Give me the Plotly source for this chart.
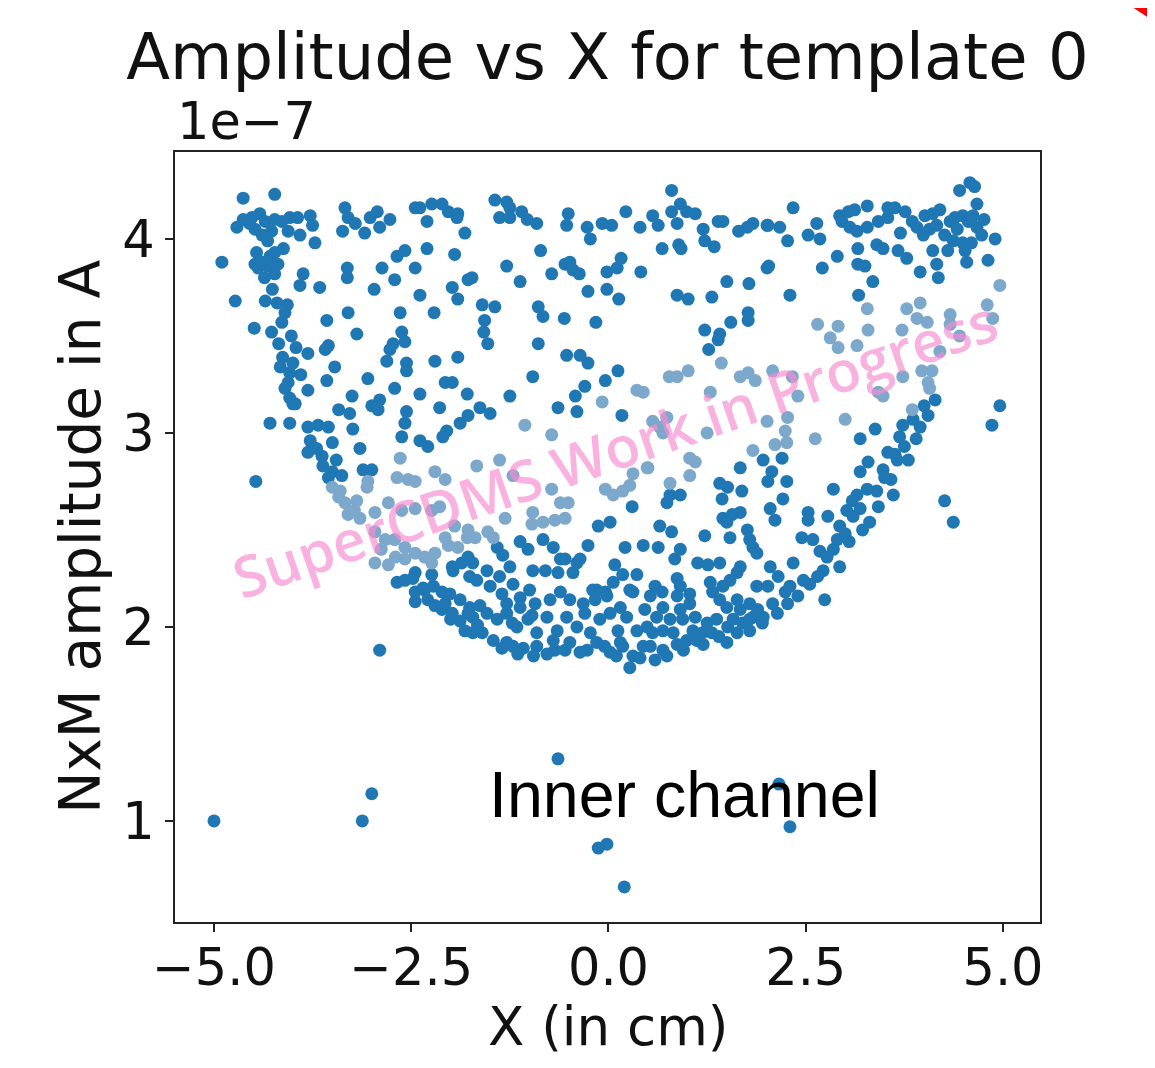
import plotly.graph_objects as go

# ---- data (x in cm, amplitude in units of 1e-7 A) ----
left_upper = [(-4.63,4.21),(-4.23,4.23),(-4.71,4.06),(-4.63,4.10),(-4.52,4.11),(-4.42,4.13),(-4.35,4.09),(-4.48,4.05),(-4.39,4.02),(-4.32,3.99),(-4.23,4.10),(-4.14,4.09),(-4.04,4.11),(-4.06,4.04),(-3.94,4.11),(-3.91,4.02),(-3.78,4.12),(-3.75,4.07),(-3.72,3.98),(-3.34,4.16),(-3.30,4.11),(-3.37,4.04),(-3.21,4.08),(-3.09,4.03),(-3.02,4.11),(-2.93,4.14),(-2.90,4.06),(-2.77,4.10),(-2.45,4.16),(-2.39,4.16),(-2.24,4.18),(-2.11,4.18),(-2.03,4.14),(-1.91,4.13),(-1.92,4.11),(-2.30,4.09),(-1.82,4.03),(-4.90,3.88),(-4.46,3.93),(-4.48,3.87),(-4.39,3.88),(-4.29,3.91),(-4.23,3.93),(-4.19,3.87),(-4.32,3.86),(-4.23,3.82),(-4.44,3.85),(-3.87,3.82),(-3.91,3.76),(-3.66,3.75),(-3.31,3.85),(-3.31,3.80),(-2.87,3.85),(-2.71,3.79),(-2.97,3.74),(-2.68,3.91),(-2.58,3.94),(-2.30,3.95),(-2.45,3.85),(-1.95,3.92),(-1.78,3.79),(-1.98,3.75),(-1.91,3.69),(-2.39,3.71),(-4.73,3.68),(-4.35,3.68),(-4.20,3.67),(-4.07,3.66),(-3.30,3.62),(-3.57,3.58),(-2.64,3.62),(-2.21,3.62),(-4.49,3.54),(-4.27,3.52),(-4.14,3.57),(-3.19,3.51),(-2.62,3.52),(-2.58,3.47),(-2.73,3.46),(-2.77,3.43),(-4.18,3.46),(-3.81,3.41),(-3.55,3.45),(-3.59,3.43),(-4.13,3.39),(-4.16,3.34),(-4.00,3.36),(-4.04,3.31),(-3.47,3.34),(-2.81,3.37),(-2.56,3.36),(-2.56,3.32),(-2.20,3.37),(-1.91,3.39),(-3.57,3.27),(-3.05,3.28),(-4.06,3.26),(-4.10,3.23),(-3.81,3.22),(-2.71,3.23),(-2.39,3.20),(-2.07,3.26),(-1.98,3.26),(-1.79,3.20),(-3.25,3.19),(-4.04,3.18),(-3.97,3.15),(-3.00,3.14),(-2.90,3.17),
    (-4.55,4.08),(-4.27,4.04),(-4.12,3.95),(-4.36,3.80),(-4.26,3.74),(-4.10,3.62),(-4.02,3.50),(-3.96,3.44),(-3.90,3.30)]

left_lower = [(-4.00,3.15),(-4.29,3.05),(-4.04,3.05),(-3.81,3.03),(-3.68,3.04),(-3.55,3.03),(-3.42,3.12),(-3.28,3.10),(-2.92,3.12),(-2.56,3.11),(-2.58,3.05),(-2.14,3.13),(-1.88,3.05),(-1.78,3.09),(-3.24,3.02),(-3.78,2.96),(-3.50,2.95),(-3.81,2.90),(-3.63,2.88),(-3.15,2.92),(-2.62,2.98),(-2.39,2.96),(-2.29,2.93),(-2.10,2.98),(-2.05,3.01),(-3.62,2.83),(-3.50,2.80),(-3.38,2.78),(-3.55,2.77),(-3.11,2.81),(-3.00,2.81),(-4.47,2.75),
    (-2.68,2.23),(-2.58,2.24),(-2.45,2.28),(-2.24,2.27),(-1.98,2.31),(-1.86,2.33),(-1.78,2.36),(-1.76,2.26),(-2.45,2.18),(-2.35,2.20),(-2.45,2.13),(-2.29,2.14),(-2.11,2.18),(-2.07,2.12),(-1.88,2.14),(-2.11,2.09),(-1.98,2.07),(-1.88,2.03),(-1.78,2.07),(-1.82,1.98),(-1.72,1.97),
    (-2.48,2.25),(-2.33,2.19),(-2.22,2.21),(-2.01,2.17),(-1.97,2.29),(-1.76,2.10),
    (-2.20,2.11),(-2.00,2.04),(-1.60,1.97),(-1.66,2.01),(-3.70,2.92),(-3.45,2.86)]

center_upper = [(-1.44,4.20),(-1.29,4.19),(-1.25,4.16),(-1.38,4.11),(-1.25,4.11),(-1.10,4.14),(-1.03,4.10),(-0.91,4.08),(-0.51,4.13),(-0.53,4.07),(-0.27,4.06),(-0.23,4.00),(-0.08,4.08),(0.04,4.07),(0.22,4.14),(0.40,4.06),(0.56,4.12),(0.63,4.07),(0.80,4.25),(0.80,4.14),(0.91,4.18),(0.99,4.14),(1.10,4.13),(0.87,4.08),(0.68,3.95),(0.89,3.97),(0.92,3.95),(1.20,4.05),(1.22,3.99),(1.34,3.96),(1.39,4.09),(1.45,4.09),(1.65,4.04),(1.76,4.06),(1.83,4.08),(2.01,4.07),(-0.86,3.94),(-1.29,3.86),(-1.12,3.78),(-1.73,3.80),(-0.72,3.82),(-0.55,3.87),(-0.49,3.88),(-0.45,3.84),(-0.37,3.82),(-0.02,3.83),(0.11,3.85),(0.16,3.90),(0.41,3.83),(-0.26,3.73),(-0.02,3.74),(0.13,3.69),(0.87,3.71),(1.01,3.69),(1.31,3.70),(1.50,3.78),(1.78,3.77),(2.01,3.85),(-1.60,3.66),(-1.44,3.65),(-1.57,3.58),(-1.58,3.52),(-1.53,3.46),(-0.89,3.65),(-0.83,3.60),(-0.56,3.59),(-0.16,3.57),(-0.89,3.46),(1.22,3.53),(1.41,3.51),(1.39,3.48),(1.27,3.43),(1.55,3.57),(1.77,3.62),(1.77,3.58),(-0.53,3.40),(-0.36,3.40),(-0.26,3.36),(0.12,3.32),(-0.04,3.27),(-0.96,3.29),(-0.30,3.24),(-0.42,3.19),(-1.25,3.19),(-1.63,3.13),(-1.50,3.10),(-0.64,3.13),(-0.40,3.11),(0.17,3.09)]

right_upper = [(4.58,4.29),(4.45,4.25),(4.64,4.27),(4.67,4.18),(2.34,4.16),(2.02,4.07),(2.17,4.06),(2.27,3.99),(2.64,4.08),(2.53,4.02),(2.68,4.00),(2.93,4.12),(3.04,4.14),(3.12,4.15),(3.28,4.17),(2.96,4.09),(3.06,4.06),(3.15,4.04),(3.28,4.06),(3.42,4.09),(3.54,4.11),(3.54,4.16),(3.63,4.16),(3.76,4.14),(4.01,4.12),(4.20,4.15),(4.11,4.13),(3.91,4.06),(3.99,4.02),(4.07,4.05),(4.16,4.07),(4.33,4.09),(4.39,4.11),(4.49,4.12),(4.56,4.09),(4.26,4.02),(4.37,3.99),(4.67,4.06),(4.73,4.02),(4.90,4.00),(4.30,3.94),(4.49,3.98),(4.52,3.94),(2.90,3.91),(3.16,3.95),(3.40,3.97),(3.48,3.95),(3.67,3.94),(3.78,3.90),(3.16,3.87),(3.25,3.86),(2.03,3.86),(2.71,3.85),(3.95,3.83),(4.16,3.87),(4.18,3.80),(4.11,3.94),(4.54,3.88),(4.81,3.89),(3.35,3.78),(2.30,3.71),(3.17,3.71),(4.14,3.17),(4.96,3.14),
    (4.62,4.12),(4.42,4.05),(4.76,4.10),(4.60,3.98),(3.85,4.09),(3.70,4.03)]

right_lower = [(4.86,3.04),(4.05,3.09),(3.86,3.07),(3.95,3.03),(3.73,3.04),(3.69,2.98),(3.80,2.86),(3.54,2.90),(3.63,2.89),(3.66,2.86),(3.38,3.02),(3.19,2.97),(2.20,2.87),(1.96,2.86),(2.07,2.80),(2.02,2.75),(2.26,2.75),(2.21,2.66),(2.05,2.61),(2.11,2.55),(2.85,2.71),(3.19,2.80),(3.29,2.85),(3.48,2.81),(3.50,2.77),(3.61,2.68),(3.40,2.70),(3.28,2.71),(3.15,2.68),(3.09,2.65),(3.19,2.61),(3.31,2.54),(3.10,2.57),(3.02,2.60),(2.93,2.52),(3.00,2.48),(2.90,2.45),(2.78,2.57),(2.53,2.59),(2.53,2.55),(2.45,2.46),(2.59,2.45),(2.68,2.39),(2.77,2.36),(2.93,2.31),(2.72,2.29),(2.65,2.26),(2.47,2.24),(2.34,2.33),(2.05,2.31),(2.15,2.26),(2.02,2.21),(2.30,2.21),(2.24,2.18),(2.08,2.12),(2.27,2.12),(2.14,2.07),(1.96,2.05),(2.74,2.14),(4.26,2.65),(4.37,2.54),
    (2.40,2.16),(2.55,2.22),(2.85,2.40),(3.05,2.44),(3.22,2.50),(3.42,2.62),(3.58,2.76),(3.75,2.93),(3.90,2.97),(4.00,3.14)]

bottom_band = [(0.30,2.62),(-0.13,2.52),(0.02,2.54),(-0.26,2.42),(0.21,2.41),(0.08,2.32),(-1.41,2.41),(-1.12,2.44),(-1.02,2.40),(-0.83,2.45),(-0.70,2.41),(-0.61,2.35),(-0.40,2.33),(-1.34,2.37),(-1.72,2.33),(-1.54,2.29),(-1.25,2.31),(-0.96,2.29),(-0.80,2.29),(-0.64,2.28),(-0.45,2.28),(0.06,2.23),(0.18,2.27),(0.36,2.27),(-0.04,2.18),(-0.15,2.19),(0.31,2.18),(-1.67,2.24),(-1.50,2.21),(-1.35,2.17),(-1.21,2.22),(-1.12,2.15),(-0.93,2.12),(-0.74,2.14),(-0.61,2.18),(-0.49,2.14),(-0.32,2.12),(-0.17,2.14),(-1.63,2.11),(-1.72,2.05),(-1.54,2.07),(-1.41,2.04),(-1.29,2.07),(-1.16,2.00),(-1.02,2.04),(-0.91,1.97),(-0.78,2.05),(-0.65,1.98),(-0.53,2.05),(-0.40,2.00),(-0.30,2.07),(-0.23,1.97),(-0.11,2.04),(0.02,2.07),(0.12,1.98),(0.23,2.05),(0.36,1.98),(-1.46,1.93),(-1.29,1.92),(-1.08,1.89),(-0.91,1.90),(-0.70,1.93),(-0.49,1.92),(-0.36,1.87),(-0.15,1.92),(0.02,1.87),(0.18,1.90),(0.31,1.85),(0.27,1.79),
    (-0.27,1.88),(0.15,1.92),(-0.68,1.88),(-1.21,1.90),(-0.97,2.06),(-1.22,2.02),(-1.00,2.19),(-1.38,2.26),(-0.36,2.35),(-0.55,2.35),(-0.20,2.19),(-0.02,2.16),(0.15,2.10),(0.27,2.19),(-1.29,2.12),(-1.12,2.10),
    (1.67,2.82),(0.78,2.68),(0.91,2.68),(0.74,2.64),(1.41,2.74),(1.51,2.72),(1.69,2.70),(1.44,2.66),(1.45,2.56),(1.57,2.58),(1.67,2.59),(1.50,2.54),(1.54,2.46),(1.76,2.50),(1.79,2.45),(1.83,2.41),(1.88,2.38),(1.22,2.47),(0.65,2.52),(0.80,2.49),(0.44,2.42),(0.63,2.41),(0.91,2.40),(0.84,2.35),(1.13,2.33),(1.26,2.32),(1.41,2.33),(1.67,2.31),(1.63,2.28),(1.54,2.24),(0.59,2.21),(0.68,2.18),(0.87,2.25),(0.91,2.21),(0.87,2.16),(1.03,2.17),(1.03,2.12),(0.91,2.09),(0.69,2.10),(0.53,2.16),(0.46,2.09),(0.61,2.05),(0.78,2.04),(0.94,2.04),(1.10,2.05),(1.32,2.18),(1.29,2.23),(1.45,2.21),(1.41,2.14),(1.50,2.10),(1.63,2.14),(1.67,2.09),(1.79,2.12),(1.83,2.05),(1.58,2.04),(1.70,2.02),(1.51,2.00),(1.37,2.04),(1.25,2.02),(1.31,1.97),(1.19,1.97),(1.07,1.98),(0.99,1.93),(0.82,1.97),(0.69,1.98),(0.56,1.97),(0.49,2.00),(0.53,1.90),(0.69,1.88),(0.87,1.91),(1.50,1.92),(0.59,1.83),
    (1.12,1.93),(1.63,1.97),(1.79,1.98),(0.74,1.85),(0.44,1.90),(1.88,2.21),(1.89,2.09),(1.79,2.04),
    (-1.35,1.89),(-1.15,1.86),(-0.95,1.85),(-0.78,1.86),(-0.55,1.88),(-0.05,1.90),(0.10,1.85),(0.40,1.84),(0.95,1.88),(1.20,1.91),(1.40,1.95),(1.95,2.02)]

outliers = [(-5.00,1.00),(-3.12,1.00),(-3.00,1.14),(-0.64,1.32),(-0.13,0.86),(-0.02,0.88),(0.20,0.66),(2.16,1.19),(2.30,0.97),(-2.90,1.88)]

# points lying under the watermark (rendered faded)
faded = [(-2.64,2.87),(-3.50,2.72),(-3.42,2.67),(-3.34,2.64),(-3.19,2.65),(-3.05,2.75),(-3.06,2.72),(-2.68,2.77),(-2.54,2.76),(-2.45,2.75),(-2.20,2.80),(-2.07,2.76),(-3.30,2.58),(-3.15,2.56),(-2.96,2.59),(-2.79,2.64),(-2.62,2.60),(-2.45,2.61),(-2.24,2.60),(-2.14,2.62),(-1.95,2.52),(-1.78,2.50),(-2.96,2.49),(-2.83,2.45),(-2.71,2.45),(-2.58,2.41),(-2.45,2.38),(-2.33,2.36),(-2.20,2.38),(-2.03,2.42),(-1.91,2.41),(-2.96,2.33),(-2.79,2.32),(-2.58,2.35),(-2.24,2.33),(-2.07,2.46),(-1.79,2.46),
    (-1.06,3.04),(-0.72,2.99),(-1.38,2.86),(-1.67,2.83),(-1.21,2.78),(-0.72,2.71),(-0.61,2.64),(-0.51,2.64),(-1.31,2.56),(-0.96,2.59),(-1.69,2.46),(-1.53,2.49),(-1.46,2.46),(-0.97,2.53),(-0.83,2.54),(-0.68,2.55),(-0.55,2.56),(-0.04,2.71),(0.06,2.68),(0.18,2.70),(0.27,2.73),(0.31,2.79),(0.50,2.82),(0.56,3.06),(0.65,3.03),(0.74,3.08),(1.03,2.87),(1.10,2.85),(1.03,2.78),(0.78,2.74),(1.25,3.00),(1.83,2.91),(2.01,3.06),(0.69,3.00),(0.49,2.82),
    (1.01,3.32),(0.77,3.29),(0.87,3.29),(1.43,3.36),(1.77,3.31),(1.67,3.29),(1.86,3.27),(0.36,3.22),(0.44,3.21),(-0.08,3.16),(1.29,3.21),
    (4.96,3.76),(3.28,3.64),(3.78,3.64),(3.95,3.67),(3.91,3.59),(4.04,3.57),(4.33,3.61),(4.33,3.56),(4.80,3.66),(4.87,3.59),(2.65,3.56),(2.91,3.55),(2.81,3.49),(2.91,3.44),(3.15,3.45),(3.29,3.53),(3.72,3.53),(2.08,3.32),(2.33,3.29),(2.40,3.19),(3.97,3.32),(4.10,3.32),(4.05,3.26),(4.07,3.23),(3.42,3.21),(3.48,3.19),(3.73,3.29),
    (3.85,3.12),(3.00,3.07),(2.62,2.97),(2.27,3.08),(2.24,3.01),(2.11,2.94),(2.26,2.95),
    (-3.40,2.70),(-3.22,2.60),(-2.88,2.40),(-2.70,2.36),(4.20,3.42),(4.45,3.50)]

x_ticks = [-5.0, -2.5, 0.0, 2.5, 5.0]
x_tick_labels = ["\u22125.0", "\u22122.5", "0.0", "2.5", "5.0"]
y_ticks = [1, 2, 3, 4]
y_tick_labels = ["1", "2", "3", "4"]

dark = left_upper + left_lower + center_upper + right_upper + right_lower + bottom_band + outliers
dark_x = [p[0] for p in dark]
dark_y = [p[1] for p in dark]
faded_x = [p[0] for p in faded]
faded_y = [p[1] for p in faded]

fig = go.Figure()
fig.add_trace(go.Scatter(x=dark_x, y=dark_y, mode="markers",
                         marker=dict(color="#1f77b4", size=13, line=dict(width=0)),
                         showlegend=False, hoverinfo="skip"))
fig.add_trace(go.Scatter(x=faded_x, y=faded_y, mode="markers",
                         marker=dict(color="rgb(124,168,204)", size=13, line=dict(width=0)),
                         showlegend=False, hoverinfo="skip"))

axis_common = dict(showline=True, linecolor="#222", linewidth=2, mirror=True,
                   showgrid=False, zeroline=False, ticks="outside", ticklen=8,
                   tickwidth=1.5, tickcolor="#222",
                   tickfont=dict(family="DejaVu Sans", size=51, color="#111"))

fig.update_layout(
    width=1139, height=1052,
    margin=dict(l=167, r=107, t=144, b=138),
    paper_bgcolor="white", plot_bgcolor="white",
    title=dict(text="Amplitude vs X for template 0", x=0.5263, xanchor="center",
               y=0.9534, yanchor="middle", yref="container",
               font=dict(family="DejaVu Sans", size=64, color="#111")),
    xaxis=dict(range=[-5.494, 5.469], tickvals=x_ticks, ticktext=x_tick_labels,
               ticklabelstandoff=-8, **axis_common),
    yaxis=dict(range=[0.479, 4.448], tickvals=y_ticks, ticktext=y_tick_labels, **axis_common),
)

fig.add_annotation(text="1e\u22127", xref="paper", yref="paper", x=0.0, y=1.039,
                   xanchor="left", yanchor="middle", showarrow=False,
                   font=dict(family="DejaVu Sans", size=51, color="#111"))
fig.add_annotation(text="NxM amplitude in A", xref="paper", yref="paper", x=-0.11, y=0.5,
                   textangle=-90, xanchor="center", yanchor="middle", showarrow=False,
                   font=dict(family="DejaVu Sans", size=56.5, color="#111"))
fig.add_annotation(text="X (in cm)", xref="paper", yref="paper", x=0.5, y=-0.136,
                   xanchor="center", yanchor="middle", showarrow=False,
                   font=dict(family="DejaVu Sans", size=53, color="#111"))
fig.add_annotation(text="Inner channel", xref="x", yref="y", x=0.96, y=1.134,
                   xanchor="center", yanchor="middle", showarrow=False,
                   font=dict(family="Liberation Sans", size=64.5, color="black"))
fig.add_annotation(text="SuperCDMS Work in Progress", xref="x", yref="y", x=0.08, y=2.92,
                   textangle=-19, xanchor="center", yanchor="middle", showarrow=False,
                   font=dict(family="Open Sans", size=57, weight=600, color="rgba(246,140,208,0.68)"))

# red corner mark (edge of a red arrow cut off at the top-right corner)
fig.add_annotation(text=" ", xref="paper", yref="paper", x=1.118, y=1.204,
                   xanchor="center", yanchor="middle", showarrow=False,
                   width=70, height=30, bgcolor="red", borderpad=0, textangle=33,
                   font=dict(size=10, color="red"))

fig.write_html("out.html")
